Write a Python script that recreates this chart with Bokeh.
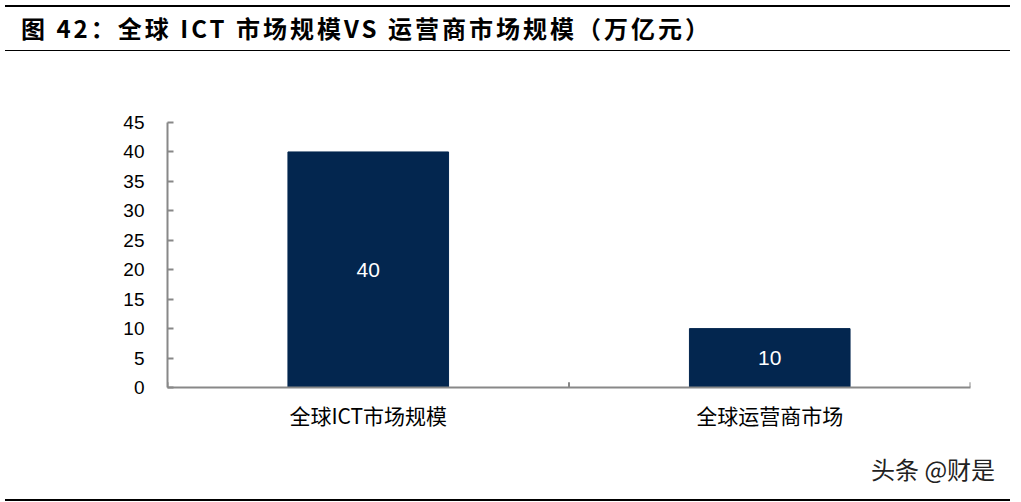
from bokeh.plotting import figure
from bokeh.models import Range1d, FactorRange, FixedTicker, Div, ColumnDataSource
from bokeh.transform import dodge
from bokeh.layouts import column
from bokeh.core.properties import value
from bokeh.embed import file_html
from bokeh.resources import INLINE

# data
categories = ["全球ICT市场规模", "全球运营商市场"]
values = [40, 10]
y_ticks = [0, 5, 10, 15, 20, 25, 30, 35, 40, 45]
title_text = "图 42：全球 ICT 市场规模VS 运营商市场规模（万亿元）"
watermark = "头条 @财是"

BAR = "#03264f"
AXIS = "#888888"

header = Div(
    text=f'<div style="font-family:\'Noto Sans CJK SC\';font-weight:bold;font-size:24px;'
         f'letter-spacing:3px;color:#000;padding:4px 0 0 16px;white-space:nowrap;">{title_text}</div>',
    width=1005, height=46,
    styles={"border-top": "2px solid #000", "border-bottom": "1px solid #000",
            "box-sizing": "border-box"},
)

src = ColumnDataSource(dict(cat=categories, val=values,
                            mid=[v / 2 for v in values],
                            lab=[str(v) for v in values]))

p = figure(width=1005, height=396, output_backend="svg", toolbar_location=None,
           x_range=FactorRange(factors=categories, range_padding=0),
           y_range=Range1d(0, 45),
           min_border_left=167, min_border_right=35,
           min_border_top=66, min_border_bottom=65)
p.outline_line_color = None
p.grid.grid_line_color = None
p.background_fill_color = "white"

p.vbar(x="cat", top="val", width=0.4, source=src, fill_color=BAR, line_color=BAR)
p.text(x="cat", y="mid", text="lab", source=src, text_color="white",
       text_align="center", text_baseline="middle", text_font_size="21px",
       text_font=value("Liberation Sans"))

# category boundary ticks along x axis
p.segment(x0=dodge("cat", -0.5, range=p.x_range), y0=0,
          x1=dodge("cat", -0.5, range=p.x_range), y1=0.9,
          source=src, line_color=AXIS, line_width=2)
p.segment(x0=dodge("cat", 0.5, range=p.x_range), y0=0,
          x1=dodge("cat", 0.5, range=p.x_range), y1=0.9,
          source=ColumnDataSource(dict(cat=categories[-1:])), line_color=AXIS, line_width=2)

ya = p.yaxis[0]
ya.ticker = FixedTicker(ticks=y_ticks)
ya.axis_line_color = AXIS
ya.axis_line_width = 2
ya.major_tick_line_color = AXIS
ya.major_tick_line_width = 2
ya.major_tick_in = 6
ya.major_tick_out = 0
ya.minor_tick_line_color = None
ya.major_label_standoff = 23
ya.major_label_text_font = "Liberation Sans"
ya.major_label_text_font_size = "19px"
ya.major_label_text_color = "#000"

xa = p.xaxis[0]
xa.axis_line_color = AXIS
xa.axis_line_width = 2
xa.major_tick_line_color = None
xa.major_tick_in = 0
xa.major_tick_out = 0
xa.major_label_standoff = 12
xa.major_label_text_font = "Noto Sans CJK SC"
xa.major_label_text_font_size = "21px"
xa.major_label_text_color = "#000"

footer = Div(
    text=f'<div style="font-family:\'Noto Sans CJK SC\';font-size:24px;color:#222;'
         f'margin-top:-5px;padding:0 0 0 866px;white-space:nowrap;">{watermark}</div>',
    width=1005, height=44,
    styles={"border-bottom": "2px solid #000", "box-sizing": "border-box"},
)

layout = column(header, p, footer, spacing=0)
open("out.html", "w").write(file_html(layout, INLINE))
